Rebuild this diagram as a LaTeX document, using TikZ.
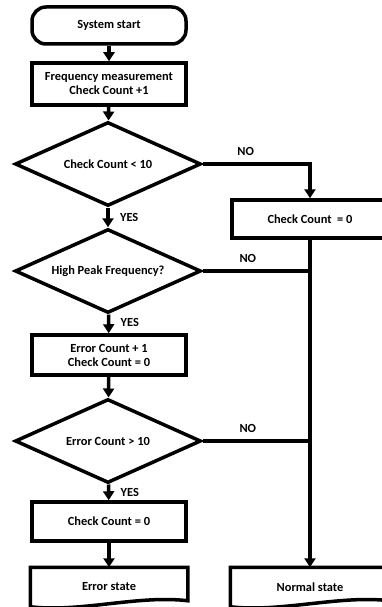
\documentclass[tikz,border=0pt]{standalone}
\usepackage{fontspec}
\setmainfont{Carlito}
\usetikzlibrary{arrows.meta}
\usetikzlibrary{shapes.geometric}
\tikzset{box/.style = {draw, line width=3.5pt, minimum width=154pt, align=center,
                       font=\bfseries\fontsize{12.4}{14}\selectfont},
         decision/.style = {diamond, draw, line width=3.5pt, inner sep=0pt, aspect=2.2,
                            minimum width=186pt, minimum height=84pt,
                            font=\bfseries\fontsize{12.4}{14}\selectfont},
         document/.style = {box, draw=none, minimum height=36pt},
         flow/.style = {line width=3.5pt, -{Triangle[width=11pt,length=9pt]}},
         lbl/.style = {font=\bfseries\fontsize{12.4}{14}\selectfont}}

\begin{document}
\begin{tikzpicture}[x=1pt, y=-1pt]
    \useasboundingbox (0, 0) rectangle (382, 607);

    \node [box, rounded corners=14pt, minimum height=37pt] (start) at (109, 25.5) {System start};
    \node [box, minimum height=42pt] (meas) at (109, 84) {Frequency measurement\\Check Count +1};
    \node [decision] (d1) at (108, 164) {Check Count < 10};
    \node [decision] (d2) at (108, 271) {High Peak Frequency?};
    \node [box, minimum height=40pt] (errcnt) at (109, 355) {Error Count + 1\\Check Count = 0};
    \node [decision] (d3) at (108, 441) {Error Count > 10};
    \node [box, minimum height=39pt] (chk) at (109, 521.5) {Check Count = 0};
    \node [document] (es) at (109, 587) {Error state};
    \node [box, minimum width=156pt, minimum height=38pt] (reset) at (310, 219) {Check Count~ = 0};
    \node [document, minimum width=156pt] (ns) at (310, 587) {Normal state};

    % document outlines with wavy bottom
    \foreach \doc in {es, ns} {
      \draw [line width=3.5pt] (\doc.north west) -- (\doc.north east) -- ([yshift=6pt]\doc.south east)
        .. controls +(-50, -6) and +(50, 6) .. (\doc.south west) -- cycle;
    }

    \draw [flow] (start) -- (meas);
    \draw [flow] (meas) -- (d1);
    \draw [flow] (d1) -- (d2) node [lbl, right=7pt, midway] {YES};
    \draw [flow] (d2) -- (errcnt) node [lbl, right=7pt, pos=0.4] {YES};
    \draw [flow] (errcnt) -- (d3);
    \draw [flow] (d3) -- (chk) node [lbl, right=7pt, midway] {YES};
    \draw [flow] (chk) -- (es);

    \draw [flow] (d1.east) -| (reset.north) node [lbl, above=3pt, pos=0.2] {NO};
    \coordinate (j2) at (reset.south |- d2.east);
    \coordinate (j3) at (reset.south |- d3.east);
    \draw [line width=3.5pt] (d2.east) -- (j2) node [lbl, above=3pt, pos=0.42] {NO};
    \draw [line width=3.5pt] (d3.east) -- (j3) node [lbl, above=3pt, pos=0.42] {NO};
    \draw [flow] (reset) -- (ns);
\end{tikzpicture}
\end{document}
